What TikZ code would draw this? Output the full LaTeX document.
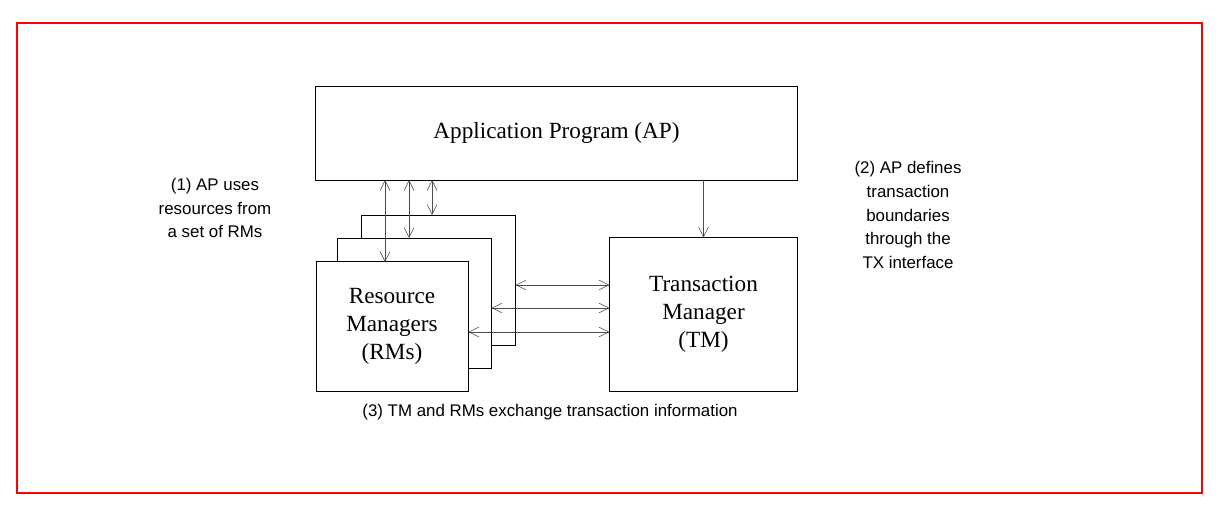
\documentclass[tikz,border=0pt]{standalone}
\usepackage{fontspec}
\setmainfont{Liberation Serif}
\newfontfamily\notefont{Liberation Sans}
\usetikzlibrary{arrows.meta}
\begin{document}
\begin{tikzpicture}[x=0.025cm,y=-0.025cm,semithick]

    \tikzset{box/.style={%
      draw,%
      rectangle,%
      inner sep=0pt,%
      align=center,%
      font=\fontsize{16.5}{20}\selectfont}%
    };

    \tikzset{note/.style={align=center, font=\notefont\fontsize{12}{17}\selectfont}};
    \tikzset{link/.style={{Straight Barb[length=7pt,width=7pt]}-{Straight Barb[length=7pt,width=7pt]}, draw=black!70, thin}};

    \useasboundingbox (0,0) rectangle (1229,516);
    \draw [red, line width=1.2pt] (17,23) rectangle (1202,493);

    %%%%%%%%%
    % boxes %
    %%%%%%%%%
    \node [box, minimum width=12.03cm, minimum height=2.35cm] (ap) at (556.5,133) {Application Program (AP)};

    \node [box, minimum width=3.83cm, minimum height=3.25cm, fill=white] (rmc) at (438.5,280) {};

    \node [box, minimum width=3.83cm, minimum height=3.25cm, fill=white] (rmb) at (414.5,303) {};

    \node [box, minimum width=3.8cm, minimum height=3.23cm, fill=white] (rma) at (392,326.5) {Resource\\Managers\\(RMs)};

    \node [box, minimum width=4.68cm, minimum height=3.83cm] (tm) at (703.5,314.5) {Transaction\\Manager\\(TM)};

    \coordinate (rmtop) at (385,262);
    \coordinate (rmtop2) at (409,238);
    \coordinate (rmtop3) at (432,215);

    \draw [link] (385,180) -- (rmtop);
    \draw [link] (409,180) -- (rmtop2);
    \draw [link] (432,180) -- (rmtop3);
    \draw [-{Straight Barb[length=7pt,width=7pt]}, draw=black!70, thin] (ap.south -| tm) -- (tm.north);

    \draw [link] (rmc.east |- 0,285) -- (tm.west |- 0,285);
    \draw [link] (rmb.east |- 0,308) -- (tm.west |- 0,308);
    \draw [link] (rma.east |- 0,332) -- (tm.west |- 0,332);

    %%%%%%%%%
    % notes %
    %%%%%%%%%
    \node [note] (n1) at (215,208) {(1) AP uses\\resources from\\a set of RMs};
    \node [note] (n2) at (908,215) {(2) AP defines\\transaction\\boundaries\\through the\\TX interface};
    \node [note] (n3) at (550,412) {(3) TM and RMs exchange transaction information};

  \end{tikzpicture}
\end{document}
